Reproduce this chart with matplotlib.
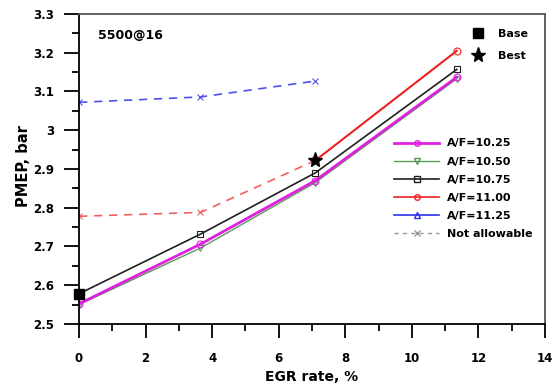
import matplotlib.pyplot as plt
from matplotlib.lines import Line2D
from matplotlib.ticker import MultipleLocator

plt.rcParams['font.family'] = ['DejaVu Sans']
plt.rcParams['font.weight'] = 'bold'

# EGR rate, %
egr = [0, 3.65, 7.1, 11.35]
af1025 = [2.552, 2.706, 2.870, 3.137]
af1050 = [2.550, 2.696, 2.865, 3.133]
af1075 = [2.578, 2.732, 2.890, 3.157]
# A/F=11.00 only allowable from 7.1 %
egr_1100 = [7.1, 11.35]
af1100 = [2.922, 3.205]
# not allowable points
egr_na = [0, 3.65, 7.1]
na_1100 = [2.778, 2.788, 2.922]
na_1125 = [3.072, 3.086, 3.127]
base = (0, 2.578)
best = (7.1, 2.922)

fig = plt.figure(figsize=(5.56, 3.87), dpi=100)
ax = fig.add_axes([79/556, 1-324/387, 466/556, 310/387])

ms = 5
ax.plot(egr, af1050, color='#5a9a5a', lw=1, marker='v', mfc='none', ms=ms, mew=0.8)
ax.plot(egr, af1025, color='#e020e0', lw=2, marker='o', mfc='none', ms=ms, mew=0.8)
ax.plot(egr, af1075, color='#202020', lw=1.2, marker='s', mfc='none', ms=ms, mew=0.8)
ax.plot(egr_1100, af1100, color='#ee2020', lw=1.5, marker='o', mfc='none', ms=ms, mew=0.8)
ax.plot(egr_na, na_1100, color='#f06060', lw=1.2, ls=(0, (5, 4)), marker='x', ms=5, mew=0.8)
ax.plot(egr_na, na_1125, color='#5050f0', lw=1.2, ls=(0, (5, 4)), marker='x', ms=5, mew=0.8)
ax.plot(*base, 's', color='black', ms=7, zorder=5, clip_on=False)
ax.plot(*best, '*', color='black', ms=11, zorder=5)

ax.set_xlim(0, 14)
ax.set_ylim(2.5, 3.3)
ax.xaxis.set_major_locator(MultipleLocator(2))
ax.xaxis.set_minor_locator(MultipleLocator(1))
ax.yaxis.set_minor_locator(MultipleLocator(0.05))
ax.set_yticks([2.5, 2.6, 2.7, 2.8, 2.9, 3.0, 3.1, 3.2, 3.3])
ax.set_yticklabels(['2.5', '2.6', '2.7', '2.8', '2.9', '3', '3.1', '3.2', '3.3'])
ax.tick_params(axis='x', which='major', direction='out', length=10, width=1.3, labelsize=8.5, pad=10)
ax.tick_params(axis='x', which='minor', direction='out', length=5, width=1.3)
ax.tick_params(axis='y', which='major', direction='out', length=11, width=1.3, labelsize=8.5, pad=7)
ax.tick_params(axis='y', which='minor', direction='out', length=5, width=1.3)
for s in ax.spines.values():
    s.set_linewidth(1.3)
ax.spines['top'].set_color('#555555')
ax.spines['right'].set_color('#555555')

ax.set_xlabel('EGR rate, %', fontsize=10, fontweight='bold', labelpad=4)
ax.set_ylabel('PMEP, bar', fontsize=10.5, fontweight='bold')
ax.yaxis.set_label_coords(-0.103, 0.51)

ax.text(0.04, 0.93, '5500@16', transform=ax.transAxes, fontsize=9,
        fontweight='bold', va='center')

h1 = [Line2D([], [], ls='none', marker='s', color='black', ms=7),
      Line2D([], [], ls='none', marker='*', color='black', ms=11)]
leg1 = ax.legend(h1, ['Base', 'Best'], loc='upper left', frameon=False,
                 bbox_to_anchor=(0.811, 0.984), handletextpad=0.8,
                 labelspacing=1.05, prop={'weight': 'bold', 'size': 8})
ax.add_artist(leg1)

h2 = [Line2D([], [], color='#e020e0', lw=2, marker='o', mfc='none', ms=4),
      Line2D([], [], color='#5a9a5a', lw=1, marker='v', mfc='none', ms=4),
      Line2D([], [], color='#202020', lw=1.2, marker='s', mfc='none', ms=4),
      Line2D([], [], color='#ee2020', lw=1.2, marker='o', mfc='none', ms=4),
      Line2D([], [], color='#3030f0', lw=1.2, marker='^', mfc='none', ms=4),
      Line2D([], [], color='#999999', lw=1, ls=(0, (3, 3)), marker='x', ms=5)]
labels2 = ['A/F=10.25', 'A/F=10.50', 'A/F=10.75', 'A/F=11.00', 'A/F=11.25', 'Not allowable']
ax.legend(h2, labels2, loc='upper left', bbox_to_anchor=(0.655, 0.631),
          frameon=False, handlelength=4.05, handletextpad=0.7, labelspacing=0.73,
          prop={'weight': 'bold', 'size': 8})

fig.savefig('out.png', dpi=100)
